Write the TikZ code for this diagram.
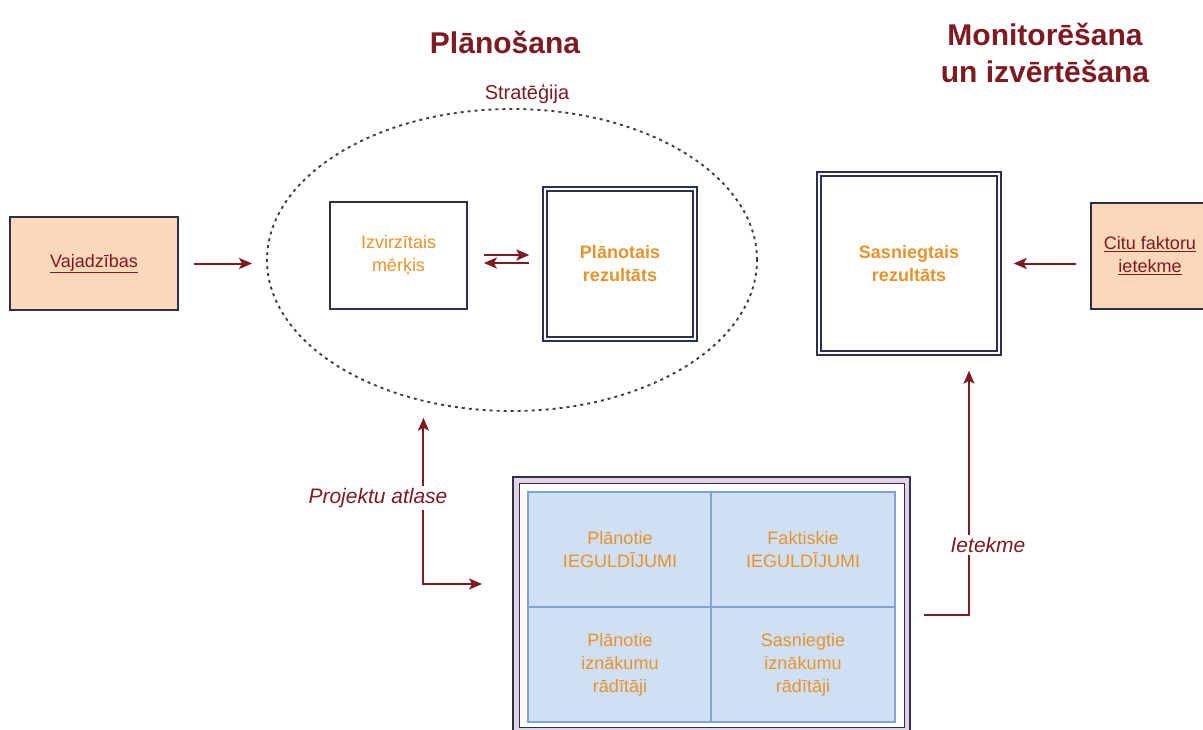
\documentclass[tikz,border=0pt]{standalone}
\usepackage{fontspec}
\setmainfont{Liberation Sans}
\usetikzlibrary{shapes.geometric}
\usetikzlibrary{positioning}
\usetikzlibrary{arrows.meta}
\definecolor{darkred}{HTML}{7E1A22}
\definecolor{boxorange}{HTML}{E8922A}
\definecolor{peach}{HTML}{FBD8BA}
\definecolor{navy}{HTML}{2E2E4E}
\definecolor{lav}{HTML}{E3D3E8}
\definecolor{cellblue}{HTML}{D0E0F4}
\definecolor{cellline}{HTML}{7FA3D6}

\begin{document}
\begin{tikzpicture}[x=1pt,y=-1pt,
    every node/.style={align=center, font=\fontsize{18}{23}\selectfont},
    need/.style={draw=navy, fill=peach, line width=1.8pt, text=darkred},
    goal/.style={draw=navy, line width=1.8pt, text=boxorange},
    result/.style={draw=navy, double, double distance=2.4pt, line width=1.4pt, text=boxorange, font=\fontsize{18}{23}\selectfont\bfseries},
    cell/.style={draw=cellline, fill=cellblue, line width=1.6pt, text=boxorange, minimum width=184pt, minimum height=115pt, inner sep=0pt},
    tip/.tip={Stealth[length=13pt,width=11pt,inset=3pt]},
    link/.style={draw=darkred, line width=2pt, -tip},
    heading/.style={text=darkred, font=\fontsize{30}{37}\selectfont\bfseries},
    edge label/.style={fill=white, text=darkred, font=\fontsize{21}{25}\selectfont\itshape, inner sep=2pt}]
    \useasboundingbox (0,0) rectangle (1203,729);
    \node [heading] (planhead) at (505,42) {Plānošana};
    \node [heading] (monhead) at (1045,53) {Monitorēšana\\un izvērtēšana};
    \node [draw=black!75, dash pattern=on 3pt off 4pt, line width=1.9pt, ellipse, minimum width=490pt, minimum height=302pt] (strat) at (512,260) {};
    \node [text=darkred, font=\fontsize{20}{24}\selectfont] (stratlabel) at (527,94) {Stratēģija};
    \node [need, minimum width=168pt, minimum height=93pt] (vaj) at (94,263.5) {\underline{Vajadzības}};
    \node [goal, minimum width=137pt, minimum height=107pt] (merk) at (398.5,255.5) {Izvirzītais\\mērķis};
    \node [result, minimum width=150pt, minimum height=150pt] (plan) at (620,264) {Plānotais\\rezultāts};
    \node [result, minimum width=180pt, minimum height=179pt] (sasn) at (909,263.5) {Sasniegtais\\rezultāts};
    \node [need, minimum width=118pt, minimum height=106pt] (citu) at (1150,256) {\underline{Citu faktoru}\\\underline{ietekme}};
    \node [draw=navy, fill=lav, line width=1.8pt, minimum width=397pt, minimum height=256pt] (proj) at (711.5,605) {};
    \node [draw=navy, fill=white, line width=1pt, minimum width=385pt, minimum height=244pt] (projin) at (proj.center) {};
    \node [cell] (planin) at (620,549.5) {Plānotie\\IEGULDĪJUMI};
    \node [cell] (faktin) at (803,549.5) {Faktiskie\\IEGULDĪJUMI};
    \node [cell] (planout) at (620,664.5) {Plānotie\\iznākumu\\rādītāji};
    \node [cell] (sasnout) at (803,664.5) {Sasniegtie\\iznākumu\\rādītāji};
    \draw [link, shorten <=15pt, shorten >=14pt] (vaj.east) -- (vaj.east -| strat.west);
    \draw [link, shorten <=16pt, shorten >=15pt] ([yshift=0.5pt]merk.east) -- ([yshift=0.5pt]merk.east -| plan.west);
    \draw [link, shorten <=15pt, shorten >=16pt] ([yshift=-7.5pt]merk.east -| plan.west) -- ([yshift=-7.5pt]merk.east);
    \draw [link, shorten <=14pt, shorten >=14pt] (citu.west |- sasn.east) -- (sasn.east);
    \draw [link, tip-tip, shorten <=16pt, shorten >=30pt] (strat.238) |- ([yshift=21pt]proj.west);
    \draw [link, shorten <=13pt, shorten >=17pt] ([yshift=-10pt]proj.east) -| ([xshift=60pt]sasn.south);
    \node [edge label] (sel) at (378,498) {Projektu atlase};
    \node [edge label] (iet) at (988,545) {Ietekme};
\end{tikzpicture}
\end{document}
